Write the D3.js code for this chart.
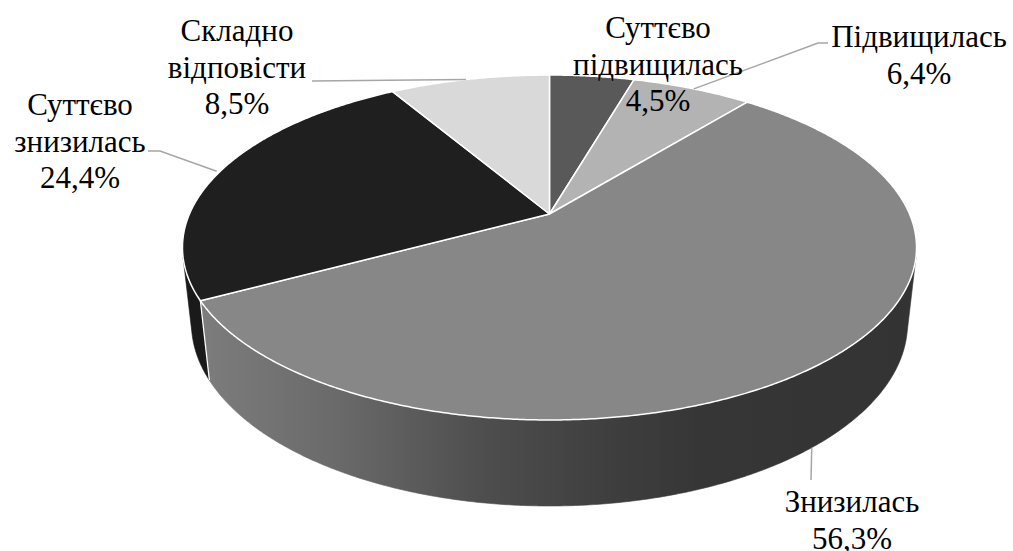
<!DOCTYPE html>
<html>
<head>
<meta charset="utf-8">
<script src="https://cdn.jsdelivr.net/npm/d3@7/dist/d3.min.js"></script>
<style>
  html, body { margin: 0; padding: 0; background: #fff; }
  svg { display: block; }
</style>
</head>
<body>
<svg id="chart" width="1013" height="551"></svg>
<script>
// ---- data ----
const categories = ["Суттєво підвищилась", "Підвищилась", "Знизилась", "Суттєво знизилась", "Складно відповісти"];
const values = [4.5, 6.4, 56.3, 24.4, 8.5];
const labelLines = [["Суттєво", "підвищилась"], ["Підвищилась"], ["Знизилась"], ["Суттєво", "знизилась"], ["Складно", "відповісти"]];

// ---- styles ----
const topColors = ["#595959", "#b3b3b3", "#878787", "#1f1f1f", "#d9d9d9"];
const sideColors = ["#4a4a4a", "#9a9a9a", "url(#sideGrad)", "#1a1a1a", "#c0c0c0"];

// pick an installed serif face (Times-like) if there is one
const serifCandidates = ["Liberation Serif", "Tinos", "Times New Roman", "Times", "Nimbus Roman", "Nimbus Roman No9 L",
  "FreeSerif", "DejaVu Serif", "Noto Serif", "Noto Serif CJK SC", "Noto Serif CJK JP"];
function detectFont() {
  const ctx = document.createElement("canvas").getContext("2d");
  const sample = "Складно відповісти 0123456789 Wmi";
  const bases = ["monospace", "sans-serif"];
  for (const f of serifCandidates) {
    for (const b of bases) {
      ctx.font = "40px " + b;
      const w0 = ctx.measureText(sample).width;
      ctx.font = "40px '" + f + "', " + b;
      const w1 = ctx.measureText(sample).width;
      if (Math.abs(w1 - w0) > 0.5) return "'" + f + "', serif";
    }
  }
  return "'Liberation Sans', Arial, sans-serif";
}
const fontFamily = detectFont();

// ---- layout (label text positions: centre x, first baseline) ----
const labelLayout = [
  { x: 658, y: 38, leader: null },
  { x: 919, y: 47, leader: { angle: 28, r: 1.0, pts: [[818, 43], [828, 43]] } },
  { x: 852, y: 512, leader: { angle: "mid", wall: true, pts: [[811, 480]] } },
  { x: 80, y: 115, leader: { angle: "mid", r: 1.01, pts: [[160, 151], [148, 151]] } },
  { x: 237, y: 41, leader: { angle: 344, r: 1.0, pts: [[312, 81]] } }
];
const fontSize = 31, lineH = 36.5;

// ---- 3D perspective projection ----
const cx = 549.5, cy = 214;
const phi = 27.45 * Math.PI / 180;
const D = 4.569, F = 1645, thick = 0.239;
const sinP = Math.sin(phi), cosP = Math.cos(phi);
function proj(a, r, Y) {
  const X = r * Math.sin(a), Z = -r * Math.cos(a);
  const depth = D - Y * sinP - Z * cosP;
  const yc = Y * cosP - Z * sinP;
  return [cx + F * X / depth, cy - F * yc / depth];
}

const svg = d3.select("#chart");
const defs = svg.append("defs");
const grad = defs.append("linearGradient").attr("id", "sideGrad")
  .attr("gradientUnits", "userSpaceOnUse").attr("x1", 190).attr("y1", 0).attr("x2", 920).attr("y2", 0);
[[0, "#7e7e7e"], [0.2, "#6a6a6a"], [0.4, "#4e4e4e"], [0.58, "#3e3e3e"], [0.7, "#363636"], [1, "#333333"]]
  .forEach(([o, c]) => grad.append("stop").attr("offset", o).attr("stop-color", c));

const pie = d3.pie().sort(null).value(d => d)
  .startAngle(0).endAngle(2 * Math.PI);
const arcs = pie(values);

function arcPoints(a0, a1, r, Y) {
  const n = Math.max(2, Math.ceil((a1 - a0) / (0.4 * Math.PI / 180)));
  return d3.range(n + 1).map(i => proj(a0 + (a1 - a0) * i / n, r, Y));
}
const line = d3.line();

// visible wall range (faces camera)
const zLim = 1 / (D * cosP);
const aL = Math.acos(-zLim), aR = 2 * Math.PI - Math.acos(-zLim);

// sides
const gSide = svg.append("g");
arcs.forEach((d, i) => {
  const s = Math.max(d.startAngle, aL), e = Math.min(d.endAngle, aR);
  if (e <= s) return;
  const top = arcPoints(s, e, 1, 0);
  const bot = arcPoints(s, e, 1, -thick).reverse();
  gSide.append("path").attr("d", line(top.concat(bot)) + "Z")
    .attr("fill", sideColors[i]).attr("stroke", sideColors[i]).attr("stroke-width", 0.6);
});
// white edges between slices on the wall
arcs.forEach(d => {
  const a = d.startAngle;
  if (a > aL && a < aR) {
    gSide.append("path").attr("d", line([proj(a, 1, 0), proj(a, 1, -thick)]))
      .attr("stroke", "#fff").attr("stroke-width", 1.3).attr("fill", "none");
  }
});

// top faces
const gTop = svg.append("g");
arcs.forEach((d, i) => {
  const pts = [proj(0, 0, 0)].concat(arcPoints(d.startAngle, d.endAngle, 1, 0));
  gTop.append("path").attr("d", line(pts) + "Z")
    .attr("fill", topColors[i]).attr("stroke", "#fff").attr("stroke-width", 1.5)
    .attr("stroke-linejoin", "round");
});

// leader lines
const gLead = svg.append("g");
arcs.forEach((d, i) => {
  const L = labelLayout[i].leader;
  if (!L) return;
  const mid = (d.startAngle + d.endAngle) / 2;
  const a = L.angle === "mid" ? mid : L.angle * Math.PI / 180;
  const start = L.wall ? proj(a, 1, -thick) : proj(a, L.r, 0);
  gLead.append("path").attr("d", line([start].concat(L.pts)))
    .attr("fill", "none").attr("stroke", "#a6a6a6").attr("stroke-width", 1.5);
});

// labels
const fmt = v => d3.format(".1f")(v).replace(".", ",") + "%";
const gLab = svg.append("g");
arcs.forEach((d, i) => {
  const lay = labelLayout[i];
  const lines = labelLines[i].concat([fmt(values[i])]);
  const t = gLab.append("text").attr("text-anchor", "middle")
    .attr("font-family", fontFamily).attr("font-size", fontSize).attr("fill", "#000");
  lines.forEach((s, k) => {
    t.append("tspan").attr("x", lay.x).attr("y", lay.y + k * lineH).text(s);
  });
});
</script>
</body>
</html>
